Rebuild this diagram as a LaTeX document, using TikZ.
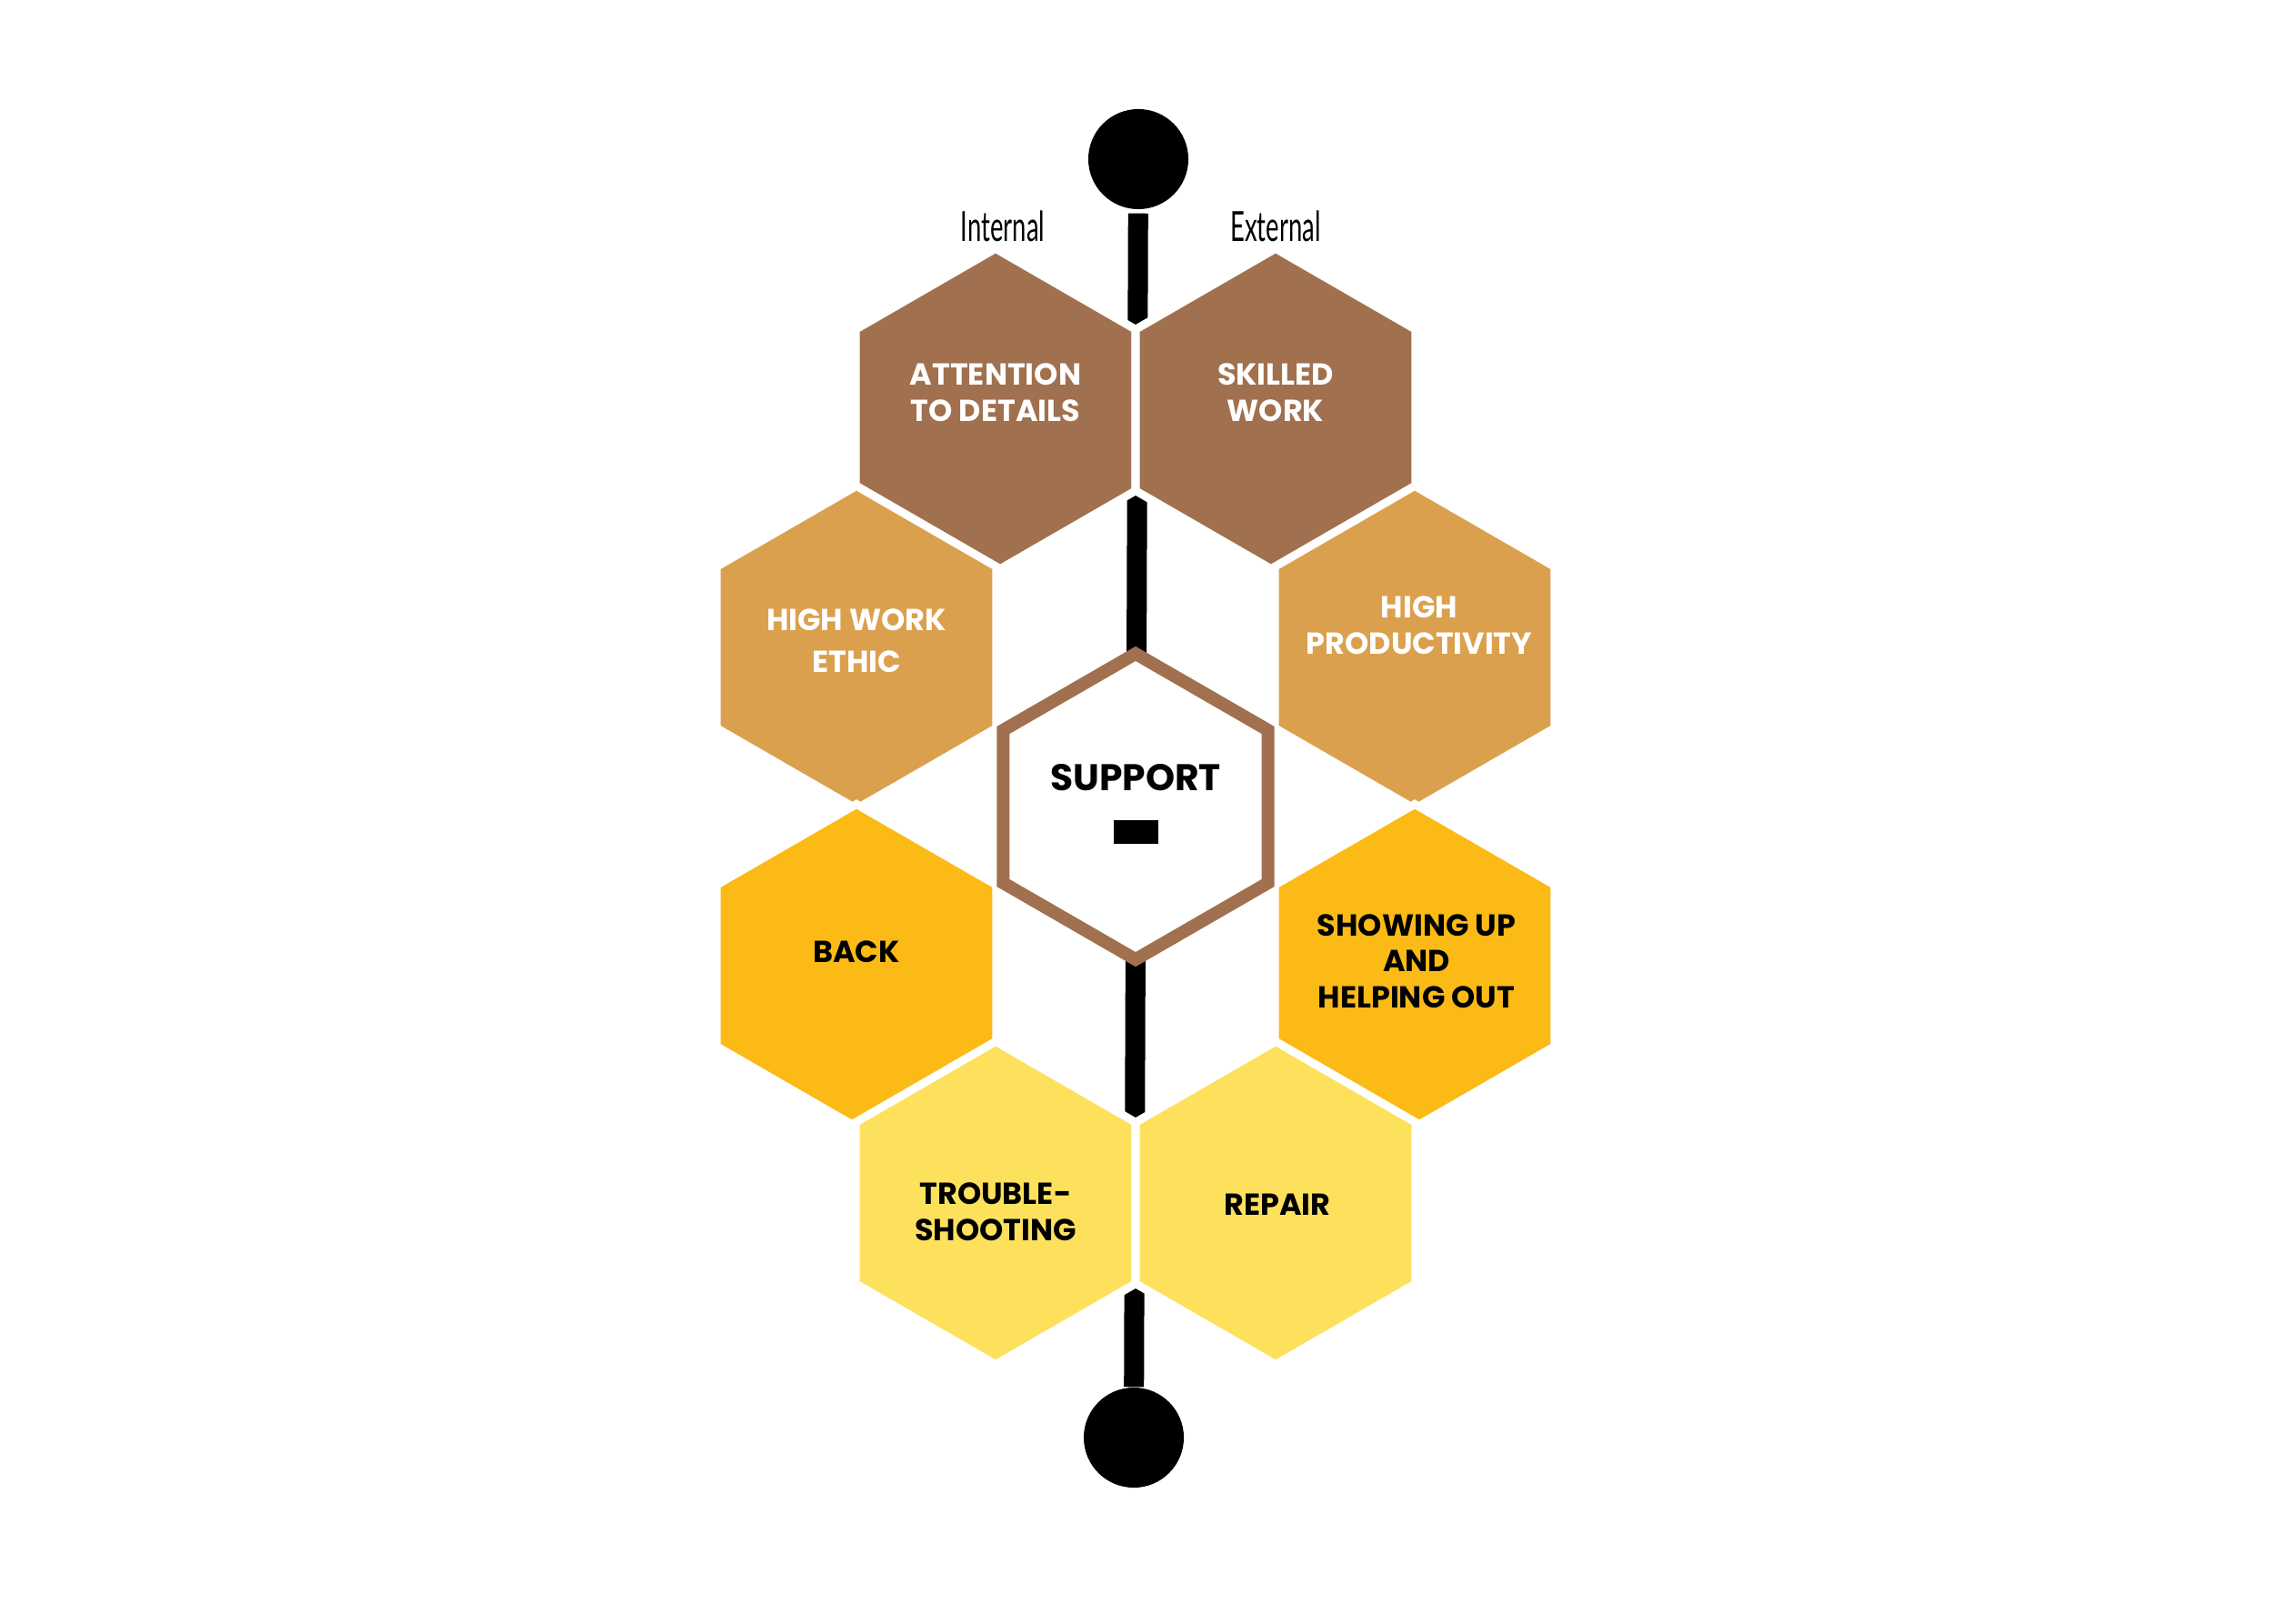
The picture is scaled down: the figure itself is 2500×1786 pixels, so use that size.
\documentclass[tikz,border=0pt]{standalone}
\usepackage{fontspec}
\setmainfont{Poppins}
\newfontfamily\labelfont{Lato}
\usetikzlibrary{shapes.geometric,positioning}
\definecolor{hexbrown}{HTML}{A0704F}
\definecolor{hextan}{HTML}{DBA04E}
\definecolor{hexamber}{HTML}{FBBA16}
\definecolor{hexyellow}{HTML}{FDE15D}

\begin{document}
\begin{tikzpicture}[x=0.01cm,y=-0.01cm,
    hexcell/.style={regular polygon,regular polygon sides=6,shape border rotate=30,
      minimum size=3.55cm,inner sep=0pt,draw=white,line width=0.9mm},
    celltext/.style={font=\bfseries\fontsize{9.5}{11.3}\selectfont,align=center},
    sidetext/.style={font=\labelfont\fontsize{13}{13}\selectfont},
    enddot/.style={circle,fill=black,minimum size=1.1cm,inner sep=0pt}]
    \useasboundingbox (0,0) rectangle (2500,1786);
    % spine
    \node[enddot] (top) at (1252,175) {};
    \node[enddot] (bot) at (1247,1581) {};
    \draw[line width=2.2mm,shorten <=0.4mm] (top) -- (bot);
    % cells
    \node[hexcell,fill=hexbrown] (attn) at (1095,451) {};
    \node[hexcell,fill=hexbrown] (skill) at (1403,451) {};
    \node[hexcell,fill=hextan] (ethic) at (942,712) {};
    \node[hexcell,fill=hextan] (prod) at (1556,712) {};
    \node[hexcell,fill=hexamber] (back) at (942,1062) {};
    \node[hexcell,fill=hexamber] (show) at (1556,1062) {};
    \node[hexcell,fill=hexyellow] (trbl) at (1095,1323) {};
    \node[hexcell,fill=hexyellow] (repair) at (1403,1323) {};
    \node[hexcell,fill=white,draw=hexbrown,line width=1.4mm,minimum size=3.36cm] (support) at (1249,887) {};
    % texts
    \node[celltext,white] (attn-t) at (1095,432) {ATTENTION\\TO DETAILS};
    \node[celltext,white] (skill-t) at (1403,432) {SKILLED\\WORK};
    \node[celltext,white,font=\bfseries\fontsize{9.5}{13}\selectfont] (ethic-t) at (942,705) {HIGH WORK\\ETHIC};
    \node[celltext,white] (prod-t) at (1561,688) {HIGH\\PRODUCTIVITY};
    \node[celltext,font=\bfseries\fontsize{11.6}{13}\selectfont] (support-t) at (1249,855) {SUPPORT};
    \node[fill=black,minimum width=0.49cm,minimum height=0.26cm,inner sep=0pt] (support-m) at (1249,915) {};
    \node[celltext] (back-t) at (942,1047) {BACK};
    \node[celltext] (show-t) at (1558,1057) {SHOWING UP\\AND\\HELPING OUT};
    \node[celltext] (trbl-t) at (1095,1333) {TROUBLE-\\SHOOTING};
    \node[celltext] (repair-t) at (1405,1325) {REPAIR};
    \node[sidetext] (int) at (1103,249) {\scalebox{0.6}[1]{Internal}};
    \node[sidetext] (ext) at (1403,249) {\scalebox{0.6}[1]{External}};
\end{tikzpicture}
\end{document}
